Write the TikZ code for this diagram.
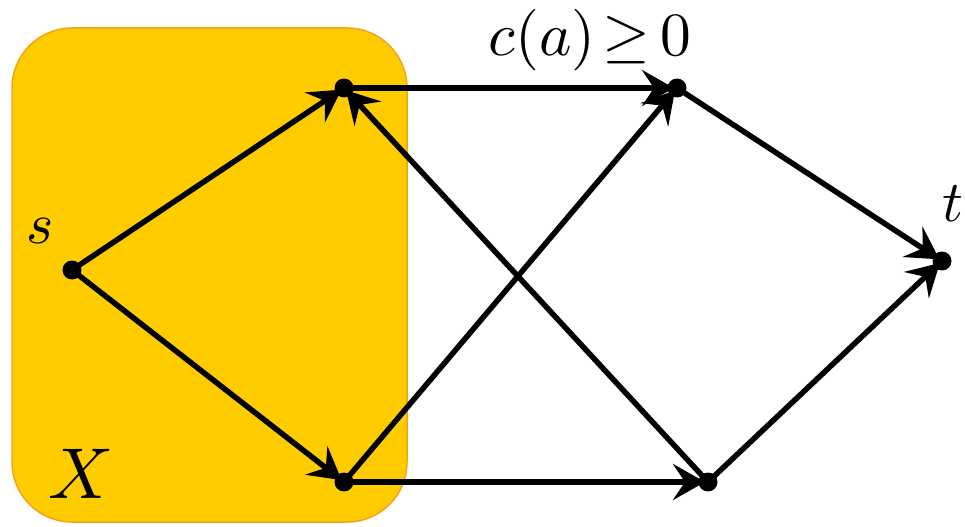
\documentclass[tikz,border=0pt]{standalone}
\usepackage{amsmath}
\usetikzlibrary{arrows.meta}
\definecolor{setfill}{HTML}{FFCC00}
\definecolor{setedge}{HTML}{F5A21A}
\tikzset{
  dotnode/.style={circle,fill=black,inner sep=0pt,minimum size=0.38cm},
  arr/.style={line width=0.11cm,-{Stealth[length=0.64cm,width=0.72cm,inset=0.24cm]},shorten >=0.06cm},
  lbl/.style={inner sep=0pt}
}
\begin{document}
\begin{tikzpicture}[x=0.02cm,y=-0.02cm]
\useasboundingbox (0,0) rectangle (965,527);
\draw[fill=setfill,draw=setedge,line width=0.03cm,rounded corners=1.2cm] (12,28) rectangle (407,522);
\coordinate (s) at (72,270);
\coordinate (u1) at (344,88);
\coordinate (u2) at (677,88);
\coordinate (t) at (942,261);
\coordinate (d1) at (344,482);
\coordinate (d2) at (708,482);
\draw[arr] (s) -- (u1);
\draw[arr] (s) -- (d1);
\draw[arr] (u1) -- (u2);
\draw[arr] (d1) -- (u2);
\draw[arr] (d2) -- (u1);
\draw[arr] (d1) -- (d2);
\draw[arr] (u2) -- (t);
\draw[arr] (d2) -- (t);
\foreach \n in {s,u1,u2,t,d1,d2} \node[dotnode] (\n dot) at (\n) {};
\node[lbl,scale=3.3] (slabel) at (40,231) {$s$};
\node[lbl,scale=4.1] (xlabel) at (81,474) {$X$};
\node[lbl,scale=3.3,anchor=base east] (tlabel) at (965,222) {$t$};
\node[lbl,scale=3.5,anchor=base] (clabel) at (590,56) {$c(a)\mskip2mu{\geq}\mskip3mu 0$};
\end{tikzpicture}
\end{document}
